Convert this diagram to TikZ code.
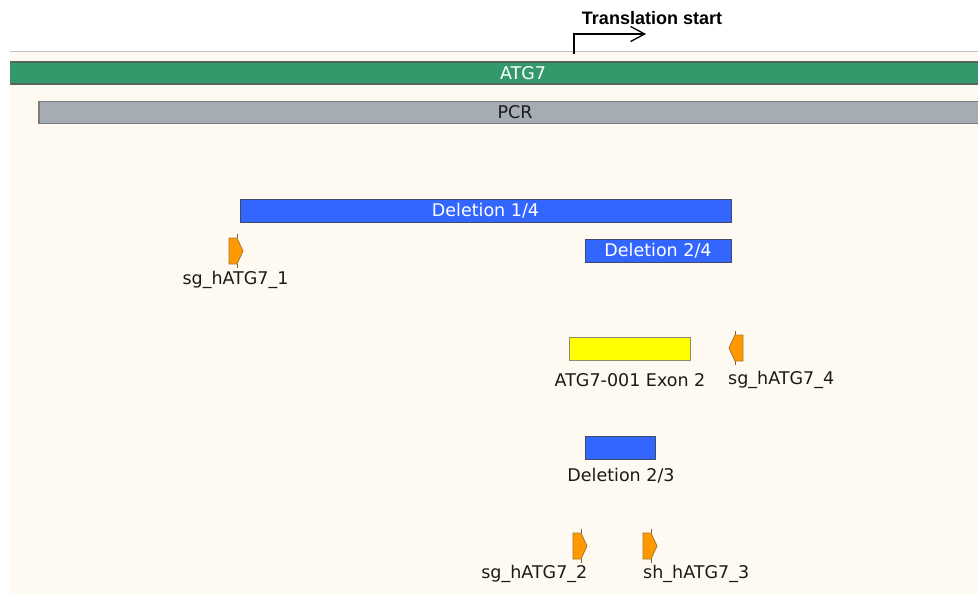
\documentclass[tikz,border=0pt]{standalone}
\usepackage{fontspec}
\setmainfont{DejaVu Sans}
\newfontfamily\arialbold{Liberation Sans}
\usetikzlibrary{arrows.meta}
\definecolor{cream}{HTML}{FFFAF1}
\definecolor{sepgray}{HTML}{C4C2C0}
\definecolor{atggreen}{HTML}{34996A}
\definecolor{atgborder}{HTML}{55665B}
\definecolor{pcrfill}{HTML}{A5ACB4}
\definecolor{pcrborder}{HTML}{7C7C7C}
\definecolor{delblue}{HTML}{3366FF}
\definecolor{delborder}{HTML}{3E4A6C}
\definecolor{exonyellow}{HTML}{FFFF00}
\definecolor{exonborder}{HTML}{8E8C6A}
\definecolor{sgorange}{HTML}{FF9900}
\definecolor{sgborder}{HTML}{A8782E}
\definecolor{txt}{HTML}{1A1A1A}
\tikzset{
  bar/.style={anchor=north west, inner sep=0pt, outer sep=0pt, font=\fontsize{17.5}{20}\selectfont},
  delbar/.style={bar, fill=delblue, draw=delborder, line width=1pt, text=white},
  lbl/.style={inner sep=0pt, text=txt, font=\fontsize{17.5}{20}\selectfont},
  sgshape/.style={fill=sgorange, draw=sgborder, line width=0.8pt, line join=miter},
  sgtick/.style={draw=sgborder!80!black, line width=0.7pt},
}
\begin{document}
\begin{tikzpicture}[x=1pt, y=-1pt]
\useasboundingbox (0,0) rectangle (978,594);
\fill[white] (0,0) rectangle (978,594);
\fill[cream] (10,52) rectangle (978,594);
\draw[sepgray, line width=1pt] (10,51.5) -- (978,51.5);

% translation start
\node[inner sep=0pt, font=\arialbold\bfseries\fontsize{18}{20}\selectfont, text=black] (ts) at (652,18) {Translation start};
\coordinate (tsbase) at (574,54);
\coordinate (tscorner) at (574,34);
\coordinate (tsend) at (646,34);
\draw[black, line width=1.3pt, -{Straight Barb[length=14pt, width=15pt, line width=1.3pt]}] (tsbase) -- (tscorner) -- (tsend);

% ATG7 bar
\fill[atggreen] (10,62) rectangle (978,84);
\draw[atgborder, line width=1.5pt] (10,62) -- (978,62) (10,84) -- (978,84);
\node[lbl, text=white] (atgl) at (523,73) {ATG7};

% PCR bar
\node[bar, fill=pcrfill, draw=pcrborder, line width=1.5pt, minimum width=943pt, minimum height=22pt] (pcr) at (39,101.5) {};
\node[lbl] (pcrl) at (515,112.5) {PCR};

% Deletions
\node[delbar, minimum width=491pt, minimum height=23pt] (d14) at (240,199) {};
\node[lbl, text=white] (d14l) at (485.5,210.5) {Deletion 1/4};
\node[delbar, minimum width=146pt, minimum height=23pt] (d24) at (585,239) {};
\node[lbl, text=white] (d24l) at (658,250.5) {Deletion 2/4};
\node[delbar, minimum width=70pt, minimum height=23pt] (d23) at (585,436) {};
\node[lbl] (d23l) at (621,476) {Deletion 2/3};

% Exon
\node[bar, fill=exonyellow, draw=exonborder, line width=1pt, minimum width=121pt, minimum height=23pt] (exon) at (569,337) {};
\node[lbl] (exonl) at (630,380) {ATG7-001 Exon 2};

% guide arrows (forward)
\foreach \x/\y in {229/251, 573/546, 643/546} {
  \draw[sgshape] (\x,\y-13) -- (\x+8,\y-13) -- (\x+14,\y) -- (\x+8,\y+13) -- (\x,\y+13) -- cycle;
  \draw[sgtick] (\x+8,\y-17) -- (\x+8,\y-13);
  \draw[sgtick] (\x+8,\y+13) -- (\x+8,\y+17);
}
% reverse arrow
\draw[sgshape] (743,335) -- (735,335) -- (729,348) -- (735,361) -- (743,361) -- cycle;
\draw[sgtick] (735,331) -- (735,335);
\draw[sgtick] (735,361) -- (735,365);

\node[lbl] (sg1) at (235.5,280) {sg\_hATG7\_1};
\node[lbl, anchor=west] (sg4) at (728,380) {sg\_hATG7\_4};
\node[lbl, anchor=east] (sg2) at (587.5,574) {sg\_hATG7\_2};
\node[lbl, anchor=west] (sh3) at (643,574) {sh\_hATG7\_3};
\end{tikzpicture}
\end{document}
